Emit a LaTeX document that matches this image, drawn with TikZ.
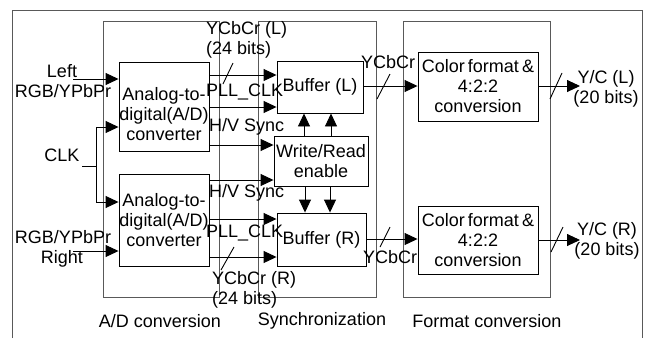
\documentclass[tikz,border=0pt]{standalone}
\usepackage{fontspec}
\setmainfont{Liberation Sans}
\usetikzlibrary{arrows.meta}
\tikzset{blk/.style={draw, line width=0.9pt, inner sep=0pt, align=center},
  panel/.style={draw=black!65, line width=0.9pt},
  sig/.style={line width=0.9pt, -{Triangle[length=13pt,width=12pt]}},
  wire/.style={line width=0.9pt},
  txt/.style={inner sep=0pt, align=center}}
\begin{document}
\begin{tikzpicture}[x=1pt,y=-1pt,font=\fontsize{18}{20}\selectfont]
  \useasboundingbox (0,0) rectangle (647,338);
  % frames
  \draw[panel] (12,338) -- (12,10) -- (642,10) -- (642,338);
  \draw[panel] (103,21) rectangle (219,297);
  \draw[panel] (258,21) rectangle (376,297);
  \draw[panel] (403,21) rectangle (550,297);
  \node[txt] (adtxt) at (160,321) {A/D conversion};
  \node[txt] (sytxt) at (322,321) {Synchronization};
  \node[txt] (fmtxt) at (487,321) {Format conversion};
  % blocks
  \node[blk, minimum width=90pt, minimum height=89pt,
    label={[txt,yshift=-8pt]center:{Analog-to-\\digital(A/D)\\converter}}] (adcL) at (164,106.5) {};
  \node[blk, minimum width=90pt, minimum height=92pt] (adcR) at (164,220) {Analog-to-\\digital(A/D)\\converter};
  \node[blk, minimum width=86pt, minimum height=52pt] (bufL) at (320,87) {Buffer (L)};
  \node[blk, minimum width=89pt, minimum height=53pt] (bufR) at (321.5,239.5) {Buffer (R)};
  \node[blk, minimum width=94pt, minimum height=50pt] (wr) at (321,161) {Write/Read\\enable};
  \node[blk, minimum width=120pt, minimum height=69pt] (cfL) at (478,86.5) {Color\hspace{3pt}format\hspace{3pt}\&\\4:2:2\\conversion};
  \node[blk, minimum width=120pt, minimum height=68pt] (cfR) at (478,240) {Color\hspace{3pt}format\hspace{3pt}\&\\4:2:2\\conversion};
  % inputs
  \node[txt] (lft) at (62,71) {Left};
  \node[txt] (rgbL) at (63,91) {RGB/YPbPr};
  \node[txt] (clkt) at (62,155) {CLK};
  \node[txt] (rgbR) at (63,237) {RGB/YPbPr};
  \node[txt] (rgt) at (62,259) {Right};
  \coordinate (inL) at (73,79);
  \coordinate (inR) at (73,251);
  \coordinate (clk) at (82,166);
  \coordinate (clkj) at (96,166);
  \draw[sig] (inL) -- (inL -| adcL.west);
  \draw[sig] (inR) -- (inR -| adcR.west);
  \draw[wire] (clk) -- (clkj);
  \draw[sig] (clkj) |- (adcL.west |- 0,127);
  \draw[sig] (clkj) |- (adcR.west |- 0,202);
  % A/D to synchronization
  \draw[sig] (adcL.east |- 0,75) -- (bufL.west |- 0,75);
  \draw[sig] (adcL.east |- 0,107) -- (bufL.west |- 0,107);
  \draw[sig] (adcL.east |- 0,145) -- (wr.west |- 0,145);
  \draw[sig] (adcR.east |- 0,180) -- (wr.west |- 0,180);
  \draw[sig] (adcR.east |- 0,219) -- (bufR.west |- 0,219);
  \draw[sig] (adcR.east |- 0,257) -- (bufR.west |- 0,257);
  \draw[wire] (228,75) ++(-5,9) -- ++(10,-21);
  \draw[wire] (227,257) ++(-6,13) -- ++(13,-23);
  \node[txt, anchor=west, align=left] (ycL) at (206,40) {YCbCr (L)\\(24 bits)};
  \node[txt, anchor=west] (pllL) at (206,92) {PLL\_CLK};
  \node[txt, anchor=west] (hvL) at (209,127) {H/V Sync};
  \node[txt, anchor=west] (hvR) at (209,193) {H/V Sync};
  \node[txt, anchor=west] (pllR) at (206,233) {PLL\_CLK};
  \node[txt, anchor=west, align=left] (ycR) at (212,290) {YCbCr (R)\\(24 bits)};
  % enable
  \draw[sig] (wr.north -| 304,0) -- (bufL.south -| 304,0);
  \draw[sig] (wr.north -| 331,0) -- (bufL.south -| 331,0);
  \draw[sig] (wr.south -| 305,0) -- (bufR.north -| 305,0);
  \draw[sig] (wr.south -| 330,0) -- (bufR.north -| 330,0);
  % synchronization to format
  \draw[sig] (bufL.east |- 0,86) -- (cfL.west |- 0,86);
  \draw[sig] (bufR.east |- 0,239) -- (cfR.west |- 0,239);
  \draw[wire] (383,86) ++(-6,13) -- ++(13,-25);
  \draw[wire] (385,239) ++(-5,8) -- ++(10,-20);
  \node[txt] (ycoL) at (388,62) {YCbCr};
  \node[txt] (ycoR) at (390,257) {YCbCr};
  % outputs
  \coordinate (outL) at (580,86);
  \coordinate (outR) at (580,240);
  \draw[sig] (cfL.east |- outL) -- (outL);
  \draw[sig] (cfR.east |- outR) -- (outR);
  \draw[wire] (556,86) ++(-6,13) -- ++(12,-26);
  \draw[wire] (557,240) ++(-6,12) -- ++(12,-25);
  \node[txt] (yoL) at (606,89) {Y/C (L)\\(20 bits)};
  \node[txt] (yoR) at (607,241) {Y/C (R)\\(20 bits)};
\end{tikzpicture}
\end{document}
